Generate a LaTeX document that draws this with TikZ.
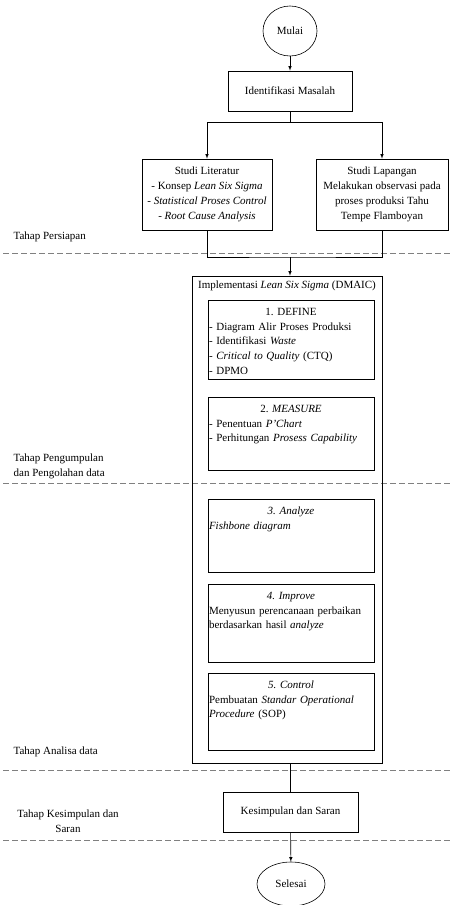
\documentclass[tikz,border=0pt]{standalone}
\usepackage{fontspec}
\setmainfont{Liberation Serif}
\usetikzlibrary{shapes.geometric}
\setlength{\parindent}{0pt}
\frenchspacing

\begin{document}
\begin{tikzpicture}[x=1pt, y=-1pt, line width=0.6pt,
    every node/.style={font=\fontsize{11}{14.8}\selectfont},
    oval/.style={draw, ellipse, inner sep=0pt},
    box/.style={draw, align=center, inner sep=0pt},
    stage/.style={draw, text width=164pt, align=left, anchor=north,
      inner xsep=1pt, inner ysep=3pt, text height=12pt, text depth=#1},
    phase/.style={anchor=west, align=left},
    sep/.style={gray, dash pattern=on 6pt off 3pt}]
  \useasboundingbox (0,0) rectangle (450,905);

  % pembatas tahap
  \draw [sep] (3,253) -- (450,253);
  \draw [sep] (3,483) -- (450,483);
  \draw [sep] (3,770) -- (450,770);
  \draw [sep] (3,840) -- (450,840);

  \node [phase] (persiapan) at (10,237) {Tahap Persiapan};
  \node [phase] (pengumpulan) at (10,466.5) {Tahap Pengumpulan\\dan Pengolahan data};
  \node [phase] (analisa) at (10,752) {Tahap Analisa data};
  \node [align=center] (penutup) at (68,821.5) {Tahap Kesimpulan dan\\Saran};

  \node [oval, minimum width=54pt, minimum height=50pt] (mulai) at (290,31) {Mulai};
  \node [box, minimum width=124pt, minimum height=40pt] (identifikasi) at (290,91)
    {Identifikasi Masalah};
  \node [box, minimum width=130pt, minimum height=71pt] (literatur) at (207,194.5)
    {Studi Literatur\\- Konsep \textit{Lean Six Sigma}\\
     - \textit{Statistical Proses Control}\\- \textit{Root Cause Analysis}};
  \node [box, minimum width=132pt, minimum height=71pt] (lapangan) at (382,194.5)
    {Studi Lapangan\\Melakukan observasi pada\\proses produksi Tahu\\Tempe Flamboyan};

  \draw [-latex] (mulai) -- (identifikasi);
  \draw [-latex] (identifikasi.south) -- ++(0,11) -| (literatur);
  \draw [-latex] (identifikasi.south) -- ++(0,11) -| (lapangan);

  \coordinate (gabung) at (290,257);
  \draw (literatur) |- (gabung) -| (lapangan);

  % DMAIC
  \node [draw, minimum width=190pt, minimum height=487pt, inner sep=0pt] (dmaic)
    at (287,519.5) {};
  \draw [-latex] (gabung) -- (gabung |- dmaic.north);
  \node (judul) at (287,286) {Implementasi \textit{Lean Six Sigma} (DMAIC)};

  \node [stage=61pt] (define) at (291,300)
    {{\centering 1. DEFINE\par}- Diagram Alir Proses Produksi\\
     - Identifikasi \textit{Waste}\\- \textit{Critical to Quality} (CTQ)\\- DPMO};
  \node [stage=55pt] (measure) at (291,397)
    {{\centering 2. \textit{MEASURE}\par}- Penentuan \textit{P'Chart}\\
     - Perhitungan \textit{Prosess Capability}};
  \node [stage=55pt] (analyze) at (291,499)
    {{\centering\textit{3. Analyze}\par}\textit{Fishbone diagram}};
  \node [stage=60pt] (improve) at (291,584)
    {{\centering\textit{4. Improve}\par}Menyusun perencanaan perbaikan\\
     berdasarkan hasil \textit{analyze}};
  \node [stage=59pt] (control) at (291,673)
    {{\centering\textit{5. Control}\par}Pembuatan \textit{Standar Operational}\\
     \textit{Procedure} (SOP)};

  \node [box, minimum width=135pt, minimum height=40pt] (kesimpulan) at (290.5,812)
    {Kesimpulan dan Saran};
  \node [oval, minimum width=68pt, minimum height=44pt] (selesai) at (291,884) {Selesai};

  \draw (dmaic.south -| kesimpulan) -- (kesimpulan);
  \draw [-latex] (kesimpulan) -- (selesai);
\end{tikzpicture}
\end{document}
